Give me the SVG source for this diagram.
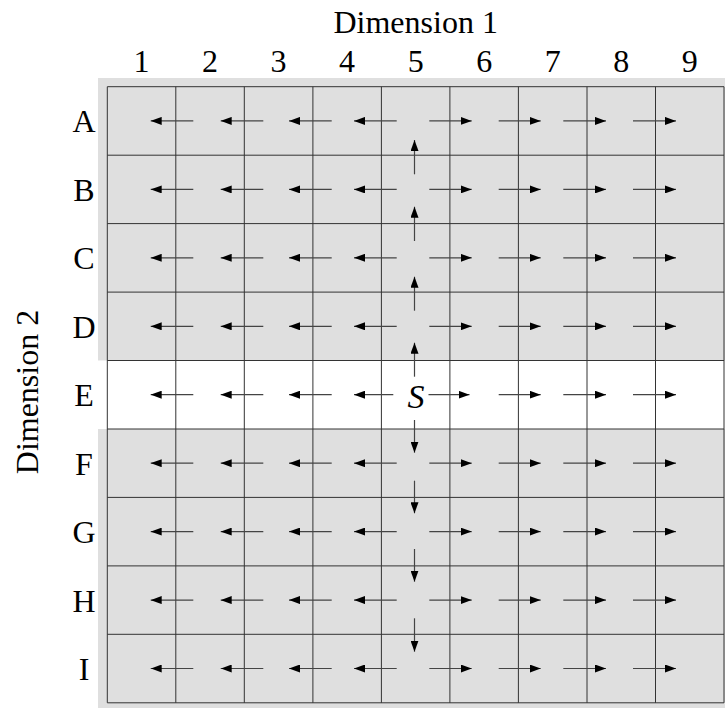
<svg xmlns="http://www.w3.org/2000/svg" width="725" height="708" viewBox="0 0 725 708">
<style>
.t{font-family:"Liberation Serif","DejaVu Serif",serif;font-size:32px;fill:#000;text-anchor:middle}
.g{stroke:#333;stroke-width:1;fill:none}
.a line{stroke:#444;stroke-width:1.2;marker-end:url(#h)}
</style>
<defs>
<marker id="h" viewBox="0 0 11 8" refX="11" refY="4" markerWidth="11" markerHeight="8" markerUnits="userSpaceOnUse" orient="auto">
<path d="M0,0 L11,4 L0,8 Z" fill="#000"/>
</marker>
</defs>
<rect width="725" height="708" fill="#fff"/>
<g id="grid">
<rect x="98" y="78" width="627" height="630" fill="#dfdfdf"/>
<rect x="98" y="360.5" width="627" height="68.5" fill="#fff"/>
<path class="g" d="M107.3,86.7V702.8M175.8,86.7V702.8M244.3,86.7V702.8M312.9,86.7V702.8M381.4,86.7V702.8M449.9,86.7V702.8M518.4,86.7V702.8M587,86.7V702.8M655.5,86.7V702.8M724,86.7V702.8"/>
<path class="g" d="M107.3,86.7H724M107.3,155.2H724M107.3,223.6H724M107.3,292.1H724M107.3,360.5H724M107.3,429H724M107.3,497.4H724M107.3,565.9H724M107.3,634.3H724M107.3,702.8H724"/>
</g>
<g id="labels">
<text class="t" x="415.7" y="33">Dimension 1</text>
<text class="t" x="141.6" y="72">1</text>
<text class="t" x="210.1" y="72">2</text>
<text class="t" x="278.6" y="72">3</text>
<text class="t" x="347.1" y="72">4</text>
<text class="t" x="415.7" y="72">5</text>
<text class="t" x="484.2" y="72">6</text>
<text class="t" x="552.7" y="72">7</text>
<text class="t" x="621.2" y="72">8</text>
<text class="t" x="689.8" y="72">9</text>
<text class="t" x="84" y="132">A</text>
<text class="t" x="84" y="200.5">B</text>
<text class="t" x="84" y="269">C</text>
<text class="t" x="84" y="337.5">D</text>
<text class="t" x="84" y="406">E</text>
<text class="t" x="84" y="474.5">F</text>
<text class="t" x="84" y="543">G</text>
<text class="t" x="84" y="611.5">H</text>
<text class="t" x="84" y="680">I</text>
<text class="t" transform="translate(38,392) rotate(-90)">Dimension 2</text>
</g>
<g id="connectors" class="a">
<line x1="193.3" y1="120.9" x2="150.7" y2="120.9"/><line x1="263.3" y1="120.9" x2="220.7" y2="120.9"/><line x1="331.7" y1="120.9" x2="289" y2="120.9"/><line x1="396.7" y1="120.9" x2="354" y2="120.9"/><line x1="429.3" y1="120.9" x2="471.7" y2="120.9"/><line x1="498.7" y1="120.9" x2="540.7" y2="120.9"/><line x1="563.3" y1="120.9" x2="606" y2="120.9"/><line x1="633" y1="120.9" x2="676" y2="120.9"/>
<line x1="193.3" y1="189.4" x2="150.7" y2="189.4"/><line x1="263.3" y1="189.4" x2="220.7" y2="189.4"/><line x1="331.7" y1="189.4" x2="289" y2="189.4"/><line x1="396.7" y1="189.4" x2="354" y2="189.4"/><line x1="429.3" y1="189.4" x2="471.7" y2="189.4"/><line x1="498.7" y1="189.4" x2="540.7" y2="189.4"/><line x1="563.3" y1="189.4" x2="606" y2="189.4"/><line x1="633" y1="189.4" x2="676" y2="189.4"/>
<line x1="193.3" y1="257.8" x2="150.7" y2="257.8"/><line x1="263.3" y1="257.8" x2="220.7" y2="257.8"/><line x1="331.7" y1="257.8" x2="289" y2="257.8"/><line x1="396.7" y1="257.8" x2="354" y2="257.8"/><line x1="429.3" y1="257.8" x2="471.7" y2="257.8"/><line x1="498.7" y1="257.8" x2="540.7" y2="257.8"/><line x1="563.3" y1="257.8" x2="606" y2="257.8"/><line x1="633" y1="257.8" x2="676" y2="257.8"/>
<line x1="193.3" y1="326.3" x2="150.7" y2="326.3"/><line x1="263.3" y1="326.3" x2="220.7" y2="326.3"/><line x1="331.7" y1="326.3" x2="289" y2="326.3"/><line x1="396.7" y1="326.3" x2="354" y2="326.3"/><line x1="429.3" y1="326.3" x2="471.7" y2="326.3"/><line x1="498.7" y1="326.3" x2="540.7" y2="326.3"/><line x1="563.3" y1="326.3" x2="606" y2="326.3"/><line x1="633" y1="326.3" x2="676" y2="326.3"/>
<line x1="193.3" y1="394.7" x2="150.7" y2="394.7"/><line x1="263.3" y1="394.7" x2="220.7" y2="394.7"/><line x1="331.7" y1="394.7" x2="289" y2="394.7"/><line x1="393.3" y1="394.7" x2="354" y2="394.7"/><line x1="428.5" y1="394.7" x2="469.5" y2="394.7"/><line x1="498.7" y1="394.7" x2="540.7" y2="394.7"/><line x1="563.3" y1="394.7" x2="606" y2="394.7"/><line x1="633" y1="394.7" x2="676" y2="394.7"/>
<line x1="193.3" y1="463.2" x2="150.7" y2="463.2"/><line x1="263.3" y1="463.2" x2="220.7" y2="463.2"/><line x1="331.7" y1="463.2" x2="289" y2="463.2"/><line x1="396.7" y1="463.2" x2="354" y2="463.2"/><line x1="429.3" y1="463.2" x2="471.7" y2="463.2"/><line x1="498.7" y1="463.2" x2="540.7" y2="463.2"/><line x1="563.3" y1="463.2" x2="606" y2="463.2"/><line x1="633" y1="463.2" x2="676" y2="463.2"/>
<line x1="193.3" y1="531.6" x2="150.7" y2="531.6"/><line x1="263.3" y1="531.6" x2="220.7" y2="531.6"/><line x1="331.7" y1="531.6" x2="289" y2="531.6"/><line x1="396.7" y1="531.6" x2="354" y2="531.6"/><line x1="429.3" y1="531.6" x2="471.7" y2="531.6"/><line x1="498.7" y1="531.6" x2="540.7" y2="531.6"/><line x1="563.3" y1="531.6" x2="606" y2="531.6"/><line x1="633" y1="531.6" x2="676" y2="531.6"/>
<line x1="193.3" y1="600.1" x2="150.7" y2="600.1"/><line x1="263.3" y1="600.1" x2="220.7" y2="600.1"/><line x1="331.7" y1="600.1" x2="289" y2="600.1"/><line x1="396.7" y1="600.1" x2="354" y2="600.1"/><line x1="429.3" y1="600.1" x2="471.7" y2="600.1"/><line x1="498.7" y1="600.1" x2="540.7" y2="600.1"/><line x1="563.3" y1="600.1" x2="606" y2="600.1"/><line x1="633" y1="600.1" x2="676" y2="600.1"/>
<line x1="193.3" y1="668.5" x2="150.7" y2="668.5"/><line x1="263.3" y1="668.5" x2="220.7" y2="668.5"/><line x1="331.7" y1="668.5" x2="289" y2="668.5"/><line x1="396.7" y1="668.5" x2="354" y2="668.5"/><line x1="429.3" y1="668.5" x2="471.7" y2="668.5"/><line x1="498.7" y1="668.5" x2="540.7" y2="668.5"/><line x1="563.3" y1="668.5" x2="606" y2="668.5"/><line x1="633" y1="668.5" x2="676" y2="668.5"/>
<line x1="414.5" y1="174.3" x2="414.5" y2="140"/><line x1="414.5" y1="241" x2="414.5" y2="206.7"/><line x1="414.5" y1="310.7" x2="414.5" y2="276.7"/><line x1="414.5" y1="376.7" x2="414.5" y2="342.7"/>
<line x1="414.5" y1="420" x2="414.5" y2="452.7"/><line x1="414.5" y1="480.7" x2="414.5" y2="513.3"/><line x1="414.5" y1="549" x2="414.5" y2="581.7"/><line x1="414.5" y1="618.3" x2="414.5" y2="651.7"/>
</g>
<g id="start">
<text x="416" y="408" style="font-family:'Liberation Serif','DejaVu Serif',serif;font-style:italic;font-size:34px;text-anchor:middle;fill:#000">S</text>
</g>
</svg>
